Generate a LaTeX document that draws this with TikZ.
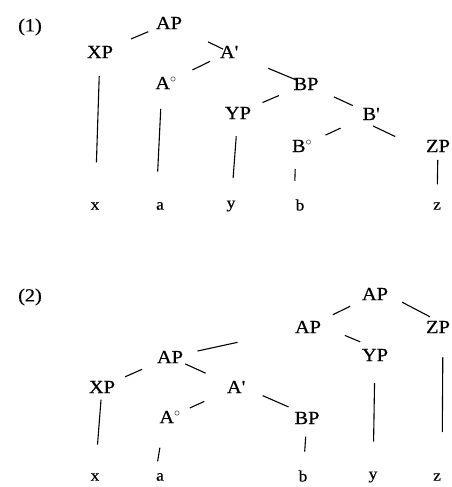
\documentclass[tikz,border=0pt]{standalone}
\usepackage{fontspec}
\setmainfont{Liberation Serif}[FakeStretch=1.1,FakeBold=0.5]
\usetikzlibrary{calc}
\tikzset{
  lab/.style={inner sep=0pt, font=\fontsize{18.5}{21}\selectfont},
  leaf/.style={inner sep=0pt, font=\fontsize{16}{18}\selectfont},
  br/.style={line width=1.1pt},
}
\newcommand\pr{\textquotesingle}
\newcommand\seg[5][]{\draw[br] ($(#2)!#4!(#3)#1$) -- ($(#2)!#5!(#3)#1$);}
\begin{document}
\begin{tikzpicture}[x=1pt,y=-1pt]
\useasboundingbox (0,0) rectangle (452,487);
% ---------- (1) ----------
\node[lab] (n1) at (30,27) {(1)};
\node[lab] (AP) at (169,23) {AP};
\node[lab] (XP) at (100,52) {XP};
\node[lab] (Ab) at (229,52) {A\pr};
\node[lab] (Ao) at (166,83) {A$^{\circ}$};
\node[lab] (BP) at (306,84) {BP};
\node[lab] (YP) at (238,113) {YP};
\node[lab] (Bb) at (371,114) {B\pr};
\node[lab] (Bo) at (302,146) {B$^{\circ}$};
\node[lab] (ZP) at (438,146) {ZP};
\node[leaf] (x1) at (95,206) {x};
\node[leaf] (a1) at (160,206) {a};
\node[leaf] (y1) at (231,206) {y};
\node[leaf] (b1) at (300,205) {b};
\node[leaf] (z1) at (437,206) {z};
\seg{AP}{XP}{0.30}{0.55}
\seg{AP}{Ab}{0.65}{0.90}
\seg{Ab}{Ao}{0.30}{0.58}
\seg{Ab}{BP}{0.51}{0.87}
\seg{BP}{YP}{0.40}{0.64}
\seg{BP}{Bb}{0.43}{0.72}
\seg{Bb}{Bo}{0.44}{0.66}
\seg[+(0,11)]{Bb}{ZP}{0.03}{0.36}
\seg{XP}{x1}{0.155}{0.716}
\seg[+(-4,0)]{Ao}{a1}{0.21}{0.72}
\seg{YP}{y1}{0.25}{0.70}
\seg[+(-6,0)]{Bo}{b1}{0.39}{0.59}
\seg{ZP}{z1}{0.23}{0.64}
% ---------- (2) ----------
\node[lab] (n2) at (30,297) {(2)};
\node[lab] (APt) at (375,294) {AP};
\node[lab] (APm) at (308,327) {AP};
\node[lab] (ZPb) at (438,327) {ZP};
\node[lab] (YPb) at (375,355) {YP};
\node[lab] (APl) at (170,357) {AP};
\node[lab] (XPb) at (102,387) {XP};
\node[lab] (Abb) at (236,387) {A\pr};
\node[lab] (Aob) at (170,417) {A$^{\circ}$};
\node[lab] (BPb) at (307,418) {BP};
\node[leaf] (x2) at (95,477) {x};
\node[leaf] (a2) at (160,477) {a};
\node[leaf] (b2) at (303,476) {b};
\node[leaf] (y2) at (373,477) {y};
\node[leaf] (z2) at (437,477) {z};
\seg{APt}{APm}{0.37}{0.63}
\seg[+(0,-6)]{APt}{ZPb}{0.43}{0.87}
\seg[+(0,-7)]{APm}{YPb}{0.55}{0.78}
\seg{APm}{APl}{0.51}{0.80}
\seg{APl}{XPb}{0.41}{0.66}
\seg{APl}{Abb}{0.23}{0.54}
\seg{Abb}{Aob}{0.48}{0.70}
\seg[+(0,-3)]{Abb}{BPb}{0.375}{0.74}
\seg{XPb}{x2}{0.14}{0.64}
\seg[+(-5,0)]{Aob}{a2}{0.51}{0.74}
\seg{BPb}{b2}{0.32}{0.58}
\seg{YPb}{y2}{0.23}{0.71}
\seg[+(5,0)]{ZPb}{z2}{0.20}{0.70}
\end{tikzpicture}
\end{document}
